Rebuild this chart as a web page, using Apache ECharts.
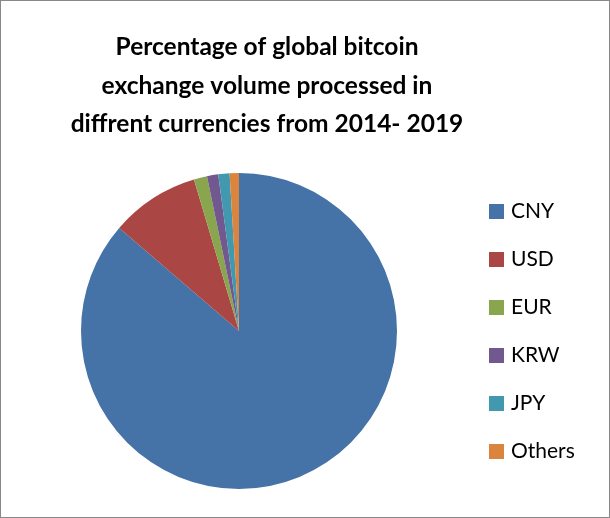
<!DOCTYPE html>
<html><head><meta charset="utf-8">
<script src="https://cdn.jsdelivr.net/npm/echarts@6/dist/echarts.min.js"></script>
<style>html,body{margin:0;padding:0;background:#fff}#c{width:610px;height:518px;box-sizing:border-box;border:1px solid #888}</style>
</head><body><div id="c"></div>
<script>
var categories = ["CNY","USD","EUR","KRW","JPY","Others"];
var values = [86.3, 9.1, 1.35, 1.15, 1.15, 0.95];
var colors = ["#4572A7","#AA4643","#89A54E","#71588F","#4198AF","#DB843D"];
var titleText = "Percentage of global bitcoin\nexchange volume processed in\ndiffrent currencies from 2014- 2019";
var chart = echarts.init(document.getElementById('c'));
chart.setOption({
  animation:false,
  color: colors,
  title:{text:titleText,left:261,top:22,textAlign:'center',
    textStyle:{fontFamily:'Lato',fontWeight:'bold',fontSize:24.5,lineHeight:38.5,color:'#000'}},
  legend:{orient:'vertical',left:488,top:200,padding:0,itemWidth:15,itemHeight:15,itemGap:27,
    icon:'rect',textStyle:{fontFamily:'Lato',fontSize:21,lineHeight:21,color:'#000',padding:[0,0,0,2]},
    data:categories},
  series:[{type:'pie',center:[238,330],radius:158,startAngle:90,clockwise:true,
    label:{show:false},labelLine:{show:false},
    itemStyle:{borderWidth:0},
    data:categories.map(function(c,i){return {name:c,value:values[i]};})}]
});
</script></body></html>
